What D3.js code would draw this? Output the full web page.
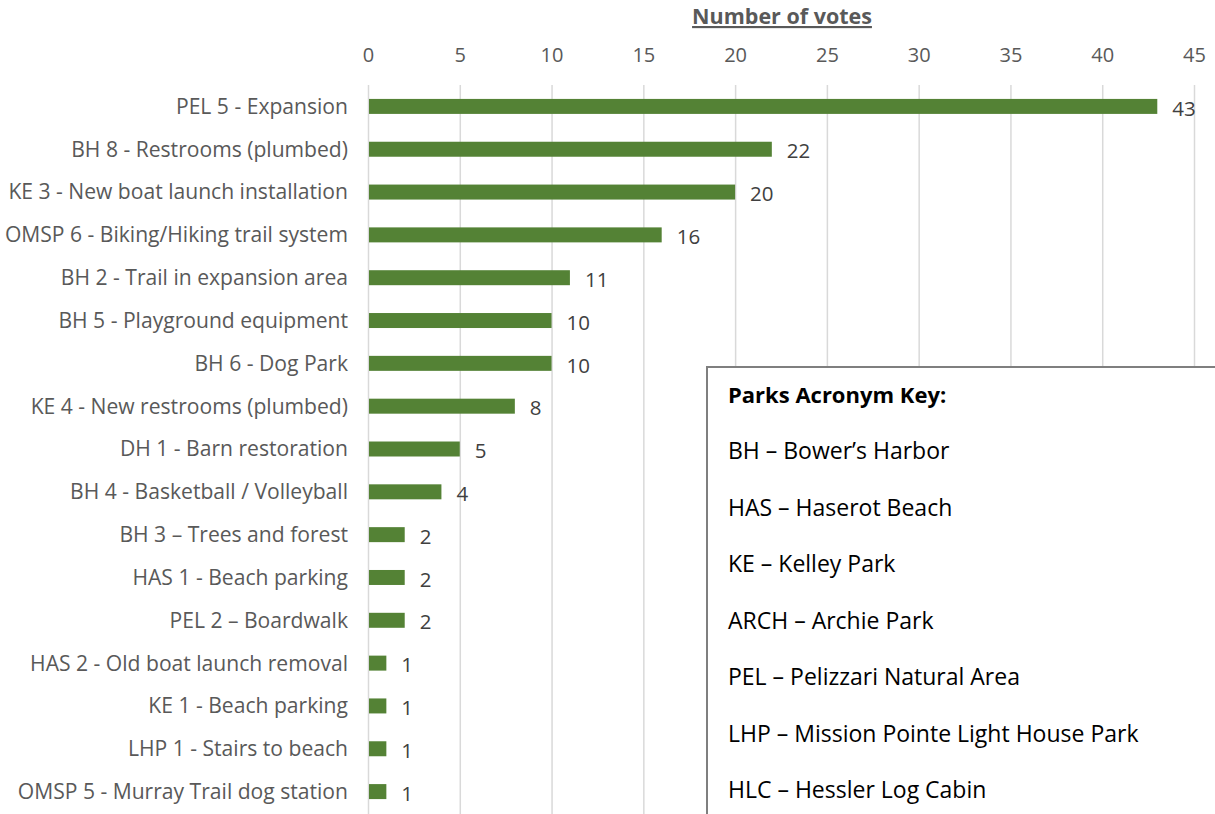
<!DOCTYPE html>
<html>
<head>
<meta charset="utf-8">
<script src="https://cdn.jsdelivr.net/npm/d3@7"></script>
<style>
  body { margin: 0; background: #fff; }
  svg { display: block; font-family: "Open Sans", sans-serif; }
</style>
</head>
<body>
<svg id="chart" width="1215" height="814"></svg>
<script>
const projects = [
  "PEL 5 - Expansion",
  "BH 8 - Restrooms (plumbed)",
  "KE 3 - New boat launch installation",
  "OMSP 6 - Biking/Hiking trail system",
  "BH 2 - Trail in expansion area",
  "BH 5 - Playground equipment",
  "BH 6 - Dog Park",
  "KE 4 - New restrooms (plumbed)",
  "DH 1 - Barn restoration",
  "BH 4 - Basketball / Volleyball",
  "BH 3 \u2013 Trees and forest",
  "HAS 1 - Beach parking",
  "PEL 2 \u2013 Boardwalk",
  "HAS 2 - Old boat launch removal",
  "KE 1 - Beach parking",
  "LHP 1 - Stairs to beach",
  "OMSP 5 - Murray Trail dog station"
];
const votes = [43, 22, 20, 16, 11, 10, 10, 8, 5, 4, 2, 2, 2, 1, 1, 1, 1];
const ticks = [0, 5, 10, 15, 20, 25, 30, 35, 40, 45];
const keyTitle = "Parks Acronym Key:";
const keyRows = [
  "BH \u2013 Bower\u2019s Harbor",
  "HAS \u2013 Haserot Beach",
  "KE \u2013 Kelley Park",
  "ARCH \u2013 Archie Park",
  "PEL \u2013 Pelizzari Natural Area",
  "LHP \u2013 Mission Pointe Light House Park",
  "HLC \u2013 Hessler Log Cabin"
];

const data = projects.map((p, i) => ({ name: p, v: votes[i] }));
const svg = d3.select("#chart");

const x = d3.scaleLinear().domain([0, 45]).range([368, 1194]);
const y = d3.scaleBand().domain(projects).range([85, 813]).paddingInner(0.65).paddingOuter(0.325);

// gridlines
svg.append("g")
  .selectAll("line")
  .data(ticks)
  .join("line")
  .attr("x1", d => x(d) + 0.5)
  .attr("x2", d => x(d) + 0.5)
  .attr("y1", 85)
  .attr("y2", 814)
  .attr("stroke", "#d9d9d9")
  .attr("stroke-width", 1.5);

// top axis
const xAxis = svg.append("g")
  .attr("transform", "translate(0,62)")
  .call(d3.axisTop(x).tickValues(ticks).tickSize(0).tickPadding(0));
xAxis.select(".domain").remove();
xAxis.selectAll("text")
  .attr("fill", "#595959")
  .style("font-size", "20px")
  .style("font-family", "Open Sans, sans-serif");

svg.append("text")
  .attr("x", 782)
  .attr("y", 24)
  .attr("text-anchor", "middle")
  .attr("fill", "#595959")
  .style("font-size", "21.5px")
  .style("font-weight", "bold")
  .style("text-decoration", "underline")
  .text("Number of votes");

// bars
svg.append("g")
  .selectAll("rect")
  .data(data)
  .join("rect")
  .attr("x", x(0) + 1)
  .attr("y", d => y(d.name))
  .attr("width", d => x(d.v) - x(0) - 1)
  .attr("height", y.bandwidth())
  .attr("fill", "#548235");

// category labels
svg.append("g")
  .selectAll("text")
  .data(data)
  .join("text")
  .attr("x", 348)
  .attr("y", d => y(d.name) + y.bandwidth() / 2)
  .attr("dy", "0.35em")
  .attr("text-anchor", "end")
  .attr("fill", "#595959")
  .style("font-size", "21.1px")
  .text(d => d.name);

// value labels
svg.append("g")
  .selectAll("text")
  .data(data)
  .join("text")
  .attr("x", d => x(d.v) + 15)
  .attr("y", d => y(d.name) + y.bandwidth() / 2 + 2)
  .attr("dy", "0.35em")
  .attr("fill", "#404040")
  .style("font-size", "20.5px")
  .text(d => d.v);

// acronym key box
const key = svg.append("g");
key.append("rect")
  .attr("x", 707)
  .attr("y", 367)
  .attr("width", 530)
  .attr("height", 470)
  .attr("fill", "#fff")
  .attr("stroke", "#7f7f7f")
  .attr("stroke-width", 2);
key.append("text")
  .attr("x", 728)
  .attr("y", 395)
  .attr("dy", "0.35em")
  .attr("fill", "#000")
  .style("font-size", "22px")
  .style("font-weight", "bold")
  .text(keyTitle);
key.selectAll(".row")
  .data(keyRows)
  .join("text")
  .attr("class", "row")
  .attr("x", 728)
  .attr("y", (d, i) => 451 + i * 56.5)
  .attr("dy", "0.35em")
  .attr("fill", "#000")
  .style("font-size", "23px")
  .text(d => d);
</script>
</body>
</html>
